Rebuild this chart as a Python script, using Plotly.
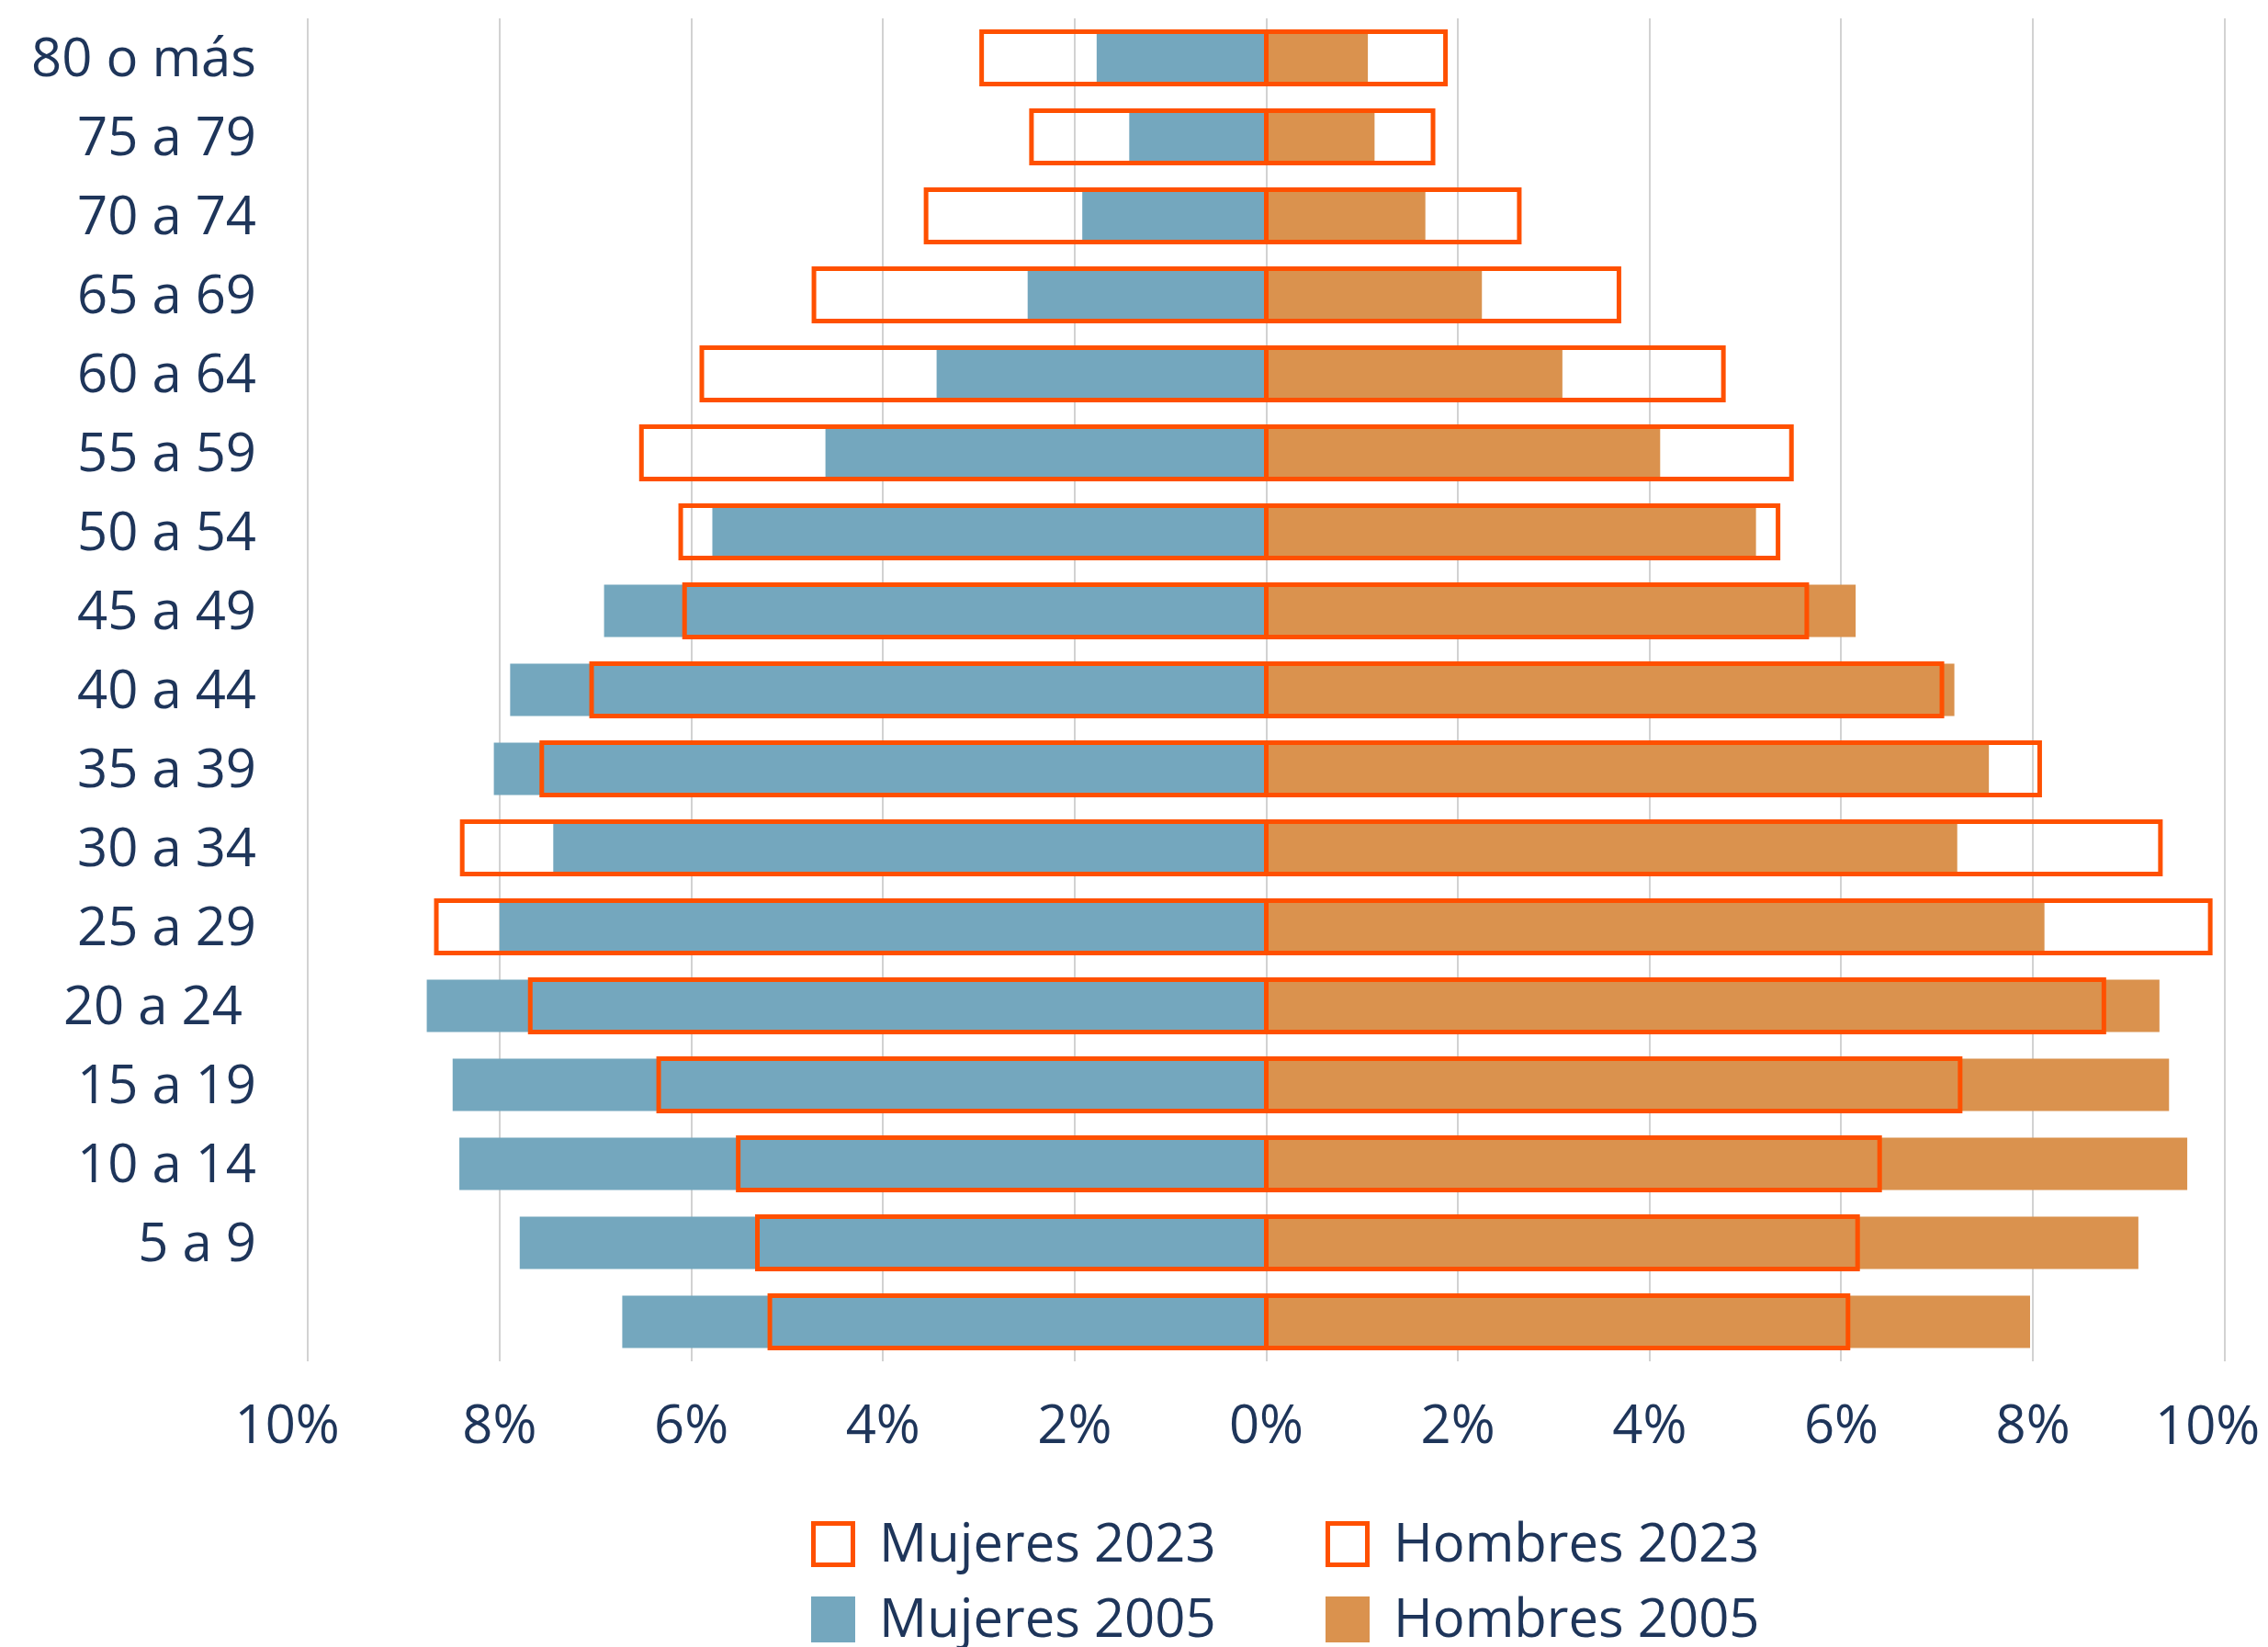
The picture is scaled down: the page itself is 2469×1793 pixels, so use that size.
import plotly.graph_objects as go

# Categories, top to bottom (the bottom group carries no label in the source)
categorias = ["80 o más", "75 a 79", "70 a 74", "65 a 69", "60 a 64", "55 a 59",
              "50 a 54", "45 a 49", "40 a 44", "35 a 39", "30 a 34", "25 a 29",
              "20 a 24", "15 a 19", "10 a 14", "5 a 9", "0 a 4"]
etiquetas = ["80 o más", "75 a 79", "70 a 74", "65 a 69", "60 a 64", "55 a 59",
             "50 a 54", "45 a 49", "40 a 44", "35 a 39", "30 a 34", "25 a 29",
             "20 a 24\u00a0", "15 a 19", "10 a 14", "5 a 9", ""]

# Shares of population (%)
mujeres_2005 = [1.77, 1.43, 1.92, 2.49, 3.44, 4.60, 5.78, 6.91, 7.89, 8.06, 7.44, 8.00,
                8.76, 8.49, 8.42, 7.79, 6.72]
mujeres_2023 = [2.97, 2.45, 3.55, 4.72, 5.89, 6.52, 6.11, 6.07, 7.04, 7.56, 8.39, 8.66,
                7.68, 6.34, 5.51, 5.31, 5.18]
hombres_2005 = [1.06, 1.13, 1.66, 2.25, 3.09, 4.11, 5.11, 6.15, 7.18, 7.54, 7.21, 8.12,
                9.32, 9.42, 9.61, 9.10, 7.97]
hombres_2023 = [1.87, 1.74, 2.64, 3.68, 4.77, 5.48, 5.34, 5.64, 7.05, 8.07, 9.33, 9.85,
                8.74, 7.24, 6.40, 6.17, 6.07]

tick_vals = [-10, -8, -6, -4, -2, 0, 2, 4, 6, 8, 10]
tick_text = ["10%\u00a0\u00a0\u00a0", "8%", "6%", "4%", "2%", "0%", "2%", "4%", "6%", "8%", ""]
edge_tick_val = 10
edge_tick_text = "10%"

legend_labels = ["Mujeres 2023", "Hombres 2023", "Mujeres 2005", "Hombres 2005"]

AZUL = "#74A7BE"
NARANJA = "#DA924E"
BORDE = "#FF5000"
TEXTO = "#1E355A"
FONT = "Open Sans"
FS = 58

fig = go.Figure()
fig.add_trace(go.Bar(y=categorias, x=[-v for v in mujeres_2005], orientation="h",
                     name="Mujeres 2005", marker=dict(color=AZUL, line=dict(width=0)),
                     showlegend=False))
fig.add_trace(go.Bar(y=categorias, x=hombres_2005, orientation="h",
                     name="Hombres 2005", marker=dict(color=NARANJA, line=dict(width=0)),
                     showlegend=False))
fig.add_trace(go.Bar(y=categorias, x=[-v for v in mujeres_2023], orientation="h",
                     name="Mujeres 2023",
                     marker=dict(color="rgba(0,0,0,0)", line=dict(color=BORDE, width=5)),
                     showlegend=False))
fig.add_trace(go.Bar(y=categorias, x=hombres_2023, orientation="h",
                     name="Hombres 2023",
                     marker=dict(color="rgba(0,0,0,0)", line=dict(color=BORDE, width=5)),
                     showlegend=False))

W, H = 2469, 1793
L, R, T, B = 330, 42, 20, 311
pw, ph = W - L - R, H - T - B

def px(x):
    return (x - L) / pw

def py(y):
    return (H - B - y) / ph

# manual legend (large swatches)
shapes = []
annotations = []
legend_pos = [(883, 1681, True), (1443, 1681, True), (883, 1763, False), (1443, 1763, False)]
fills = [None, None, AZUL, NARANJA]
for (lx, ly, outline), lab, fc in zip(legend_pos, legend_labels, fills):
    sw, sh = 48, 50
    if outline:
        shapes.append(dict(type="rect", xref="paper", yref="paper",
                           x0=px(lx + 2.5), x1=px(lx + sw - 2.5),
                           y0=py(ly - sh / 2 + 2.5), y1=py(ly + sh / 2 - 2.5),
                           line=dict(color=BORDE, width=5), fillcolor="white"))
    else:
        shapes.append(dict(type="rect", xref="paper", yref="paper",
                           x0=px(lx), x1=px(lx + sw),
                           y0=py(ly - sh / 2), y1=py(ly + sh / 2),
                           line=dict(width=0), fillcolor=fc))
    annotations.append(dict(xref="paper", yref="paper", x=px(lx + sw + 24), y=py(ly - 4),
                            text=lab, showarrow=False, xanchor="left", yanchor="middle",
                            font=dict(family=FONT, size=FS, color=TEXTO)))

# right-edge tick label, pulled inside the canvas as in the source
annotations.append(dict(xref="x", yref="paper", x=edge_tick_val, y=py(1549), xshift=40,
                        text=edge_tick_text, showarrow=False, xanchor="right",
                        yanchor="middle", font=dict(family=FONT, size=FS, color=TEXTO)))

fig.update_layout(
    width=W, height=H, autosize=False,
    margin=dict(l=L, r=R, t=T, b=B, pad=0, autoexpand=False),
    barmode="overlay", bargap=0.34,
    plot_bgcolor="white", paper_bgcolor="white",
    font=dict(family=FONT, size=FS, color=TEXTO),
    showlegend=False,
    xaxis=dict(range=[-10.05, 10.05], tickvals=tick_vals, ticktext=tick_text,
               showgrid=True, gridcolor="#D2D2D2", gridwidth=2, zeroline=False,
               showline=False, ticks="", ticklabelstandoff=30, automargin=False,
               tickfont=dict(family=FONT, size=FS, color=TEXTO), fixedrange=True),
    yaxis=dict(categoryorder="array", categoryarray=categorias, autorange="reversed",
               tickvals=categorias, ticktext=etiquetas, showgrid=False, zeroline=False,
               showline=False, ticks="", ticklabelstandoff=50, automargin=False,
               tickfont=dict(family=FONT, size=FS, color=TEXTO), fixedrange=True),
    shapes=shapes, annotations=annotations,
)

fig.write_html("out.html", config={"displayModeBar": False},
               post_script="document.body.style.margin='0';document.body.style.overflow='hidden';")
